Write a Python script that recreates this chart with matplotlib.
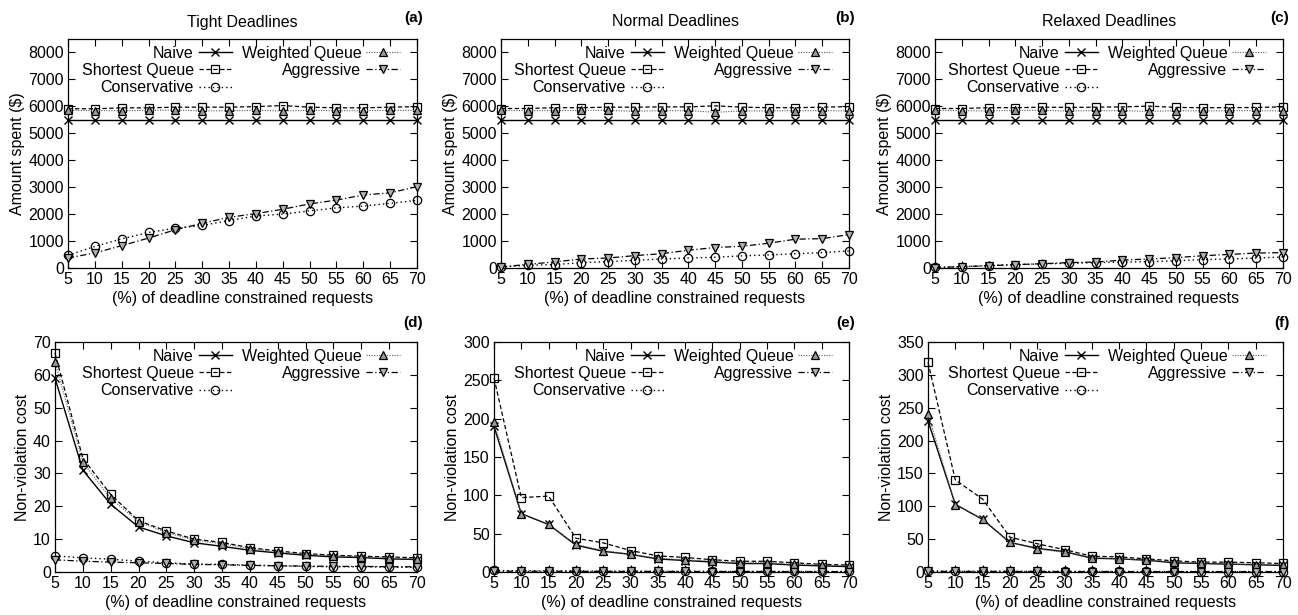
import matplotlib
matplotlib.use("Agg")
import matplotlib.pyplot as plt

plt.rcParams['font.family'] = ['Liberation Sans', 'DejaVu Sans']

x_pct = [5, 10, 15, 20, 25, 30, 35, 40, 45, 50, 55, 60, 65, 70]
series_names = ["Naive", "Shortest Queue", "Conservative", "Weighted Queue", "Aggressive"]
top_titles = ["Tight Deadlines", "Normal Deadlines", "Relaxed Deadlines"]
panel_tags = ["(a)", "(b)", "(c)", "(d)", "(e)", "(f)"]

# ---- Amount spent ($) ----
spent_tight_naive = [5480] * 14
spent_tight_sq = [5910, 5910, 5945, 5945, 5970, 5970, 5970, 5990, 6030, 5970, 5945, 5945, 5970, 5990]
spent_tight_cons = [470, 800, 1080, 1320, 1480, 1580, 1760, 1930, 2000, 2120, 2230, 2300, 2400, 2510]
spent_tight_wq = [5850, 5840, 5840, 5850, 5860, 5830, 5840, 5850, 5830, 5850, 5840, 5840, 5850, 5850]
spent_tight_aggr = [370, 560, 830, 1110, 1420, 1660, 1880, 2020, 2180, 2380, 2520, 2710, 2790, 3020]

spent_normal_naive = [5480] * 14
spent_normal_sq = [5920, 5920, 5950, 5950, 5970, 5970, 5980, 5980, 6020, 5970, 5950, 5950, 5970, 5990]
spent_normal_cons = [40, 100, 125, 200, 235, 285, 335, 370, 400, 450, 485, 530, 570, 635]
spent_normal_wq = [5850, 5840, 5840, 5850, 5850, 5820, 5840, 5840, 5780, 5830, 5830, 5840, 5840, 5830]
spent_normal_aggr = [40, 135, 225, 335, 370, 460, 530, 660, 760, 805, 920, 1070, 1090, 1240]

spent_relaxed_naive = [5480] * 14
spent_relaxed_sq = [5920, 5920, 5950, 5950, 5970, 5960, 5970, 5980, 6010, 5960, 5950, 5950, 5960, 5980]
spent_relaxed_cons = [20, 50, 90, 125, 150, 175, 200, 220, 235, 270, 310, 335, 370, 410]
spent_relaxed_wq = [5850, 5840, 5830, 5850, 5850, 5830, 5840, 5840, 5810, 5840, 5830, 5840, 5840, 5830]
spent_relaxed_aggr = [15, 50, 85, 125, 160, 200, 220, 295, 335, 385, 455, 505, 555, 570]

# ---- Non-violation cost ----
nv_tight_naive = [59, 31, 20.6, 13.7, 11, 8.9, 7.8, 6.6, 5.8, 5.1, 4.6, 4.4, 4.0, 3.8]
nv_tight_sq = [66.6, 34.6, 23.6, 15.6, 12.5, 10.0, 9.0, 7.4, 6.4, 5.6, 5.1, 4.8, 4.6, 4.3]
nv_tight_cons = [4.9, 4.3, 3.9, 3.3, 2.8, 2.4, 2.3, 2.1, 1.9, 1.7, 1.6, 1.6, 1.5, 1.4]
nv_tight_wq = [64, 33.4, 22.4, 15.3, 12, 9.7, 8.6, 7.1, 6.1, 5.4, 4.9, 4.6, 4.3, 3.9]
nv_tight_aggr = [3.7, 3.3, 3.0, 2.8, 2.6, 2.3, 2.2, 2.0, 1.9, 1.8, 1.7, 1.7, 1.6, 1.6]

nv_normal_naive = [190, 76, 62, 35, 27, 23, 17, 15, 13, 11, 11, 9, 8, 7]
nv_normal_sq = [253, 97, 99, 44, 38, 28, 21, 19, 16, 14, 14, 12, 10, 9]
nv_normal_cons = [2.0, 1.5, 1.5, 1.2, 1.0, 1.0, 1.0, 0.9, 0.9, 0.8, 0.8, 0.8, 0.7, 0.7]
nv_normal_wq = [196, 76, 62, 36, 28, 23, 18, 16, 14, 12, 12, 10, 9, 8]
nv_normal_aggr = [1.2, 1.0, 1.0, 0.9, 0.8, 0.8, 0.7, 0.7, 0.6, 0.6, 0.6, 0.5, 0.5, 0.5]

nv_relaxed_naive = [230, 103, 80, 45, 36, 31, 21, 20, 18, 14, 13, 12, 11, 10]
nv_relaxed_sq = [319, 140, 111, 53, 43, 34, 24, 23, 20, 17, 15, 15, 14, 13]
nv_relaxed_cons = [1.5, 1.2, 1.2, 1.0, 1.0, 0.9, 0.9, 0.8, 0.8, 0.8, 0.7, 0.7, 0.7, 0.7]
nv_relaxed_wq = [241, 102, 81, 45, 35, 30, 22, 20, 18, 15, 13, 12, 11, 11]
nv_relaxed_aggr = [1.0, 0.9, 0.9, 0.8, 0.8, 0.7, 0.7, 0.7, 0.6, 0.6, 0.6, 0.6, 0.5, 0.5]

spent_panels = [
    [spent_tight_naive, spent_tight_sq, spent_tight_cons, spent_tight_wq, spent_tight_aggr],
    [spent_normal_naive, spent_normal_sq, spent_normal_cons, spent_normal_wq, spent_normal_aggr],
    [spent_relaxed_naive, spent_relaxed_sq, spent_relaxed_cons, spent_relaxed_wq, spent_relaxed_aggr],
]
nv_panels = [
    [nv_tight_naive, nv_tight_sq, nv_tight_cons, nv_tight_wq, nv_tight_aggr],
    [nv_normal_naive, nv_normal_sq, nv_normal_cons, nv_normal_wq, nv_normal_aggr],
    [nv_relaxed_naive, nv_relaxed_sq, nv_relaxed_cons, nv_relaxed_wq, nv_relaxed_aggr],
]

styles = [
    dict(linestyle='-', marker='x', markersize=6, markeredgewidth=1.0, linewidth=1.0),
    dict(linestyle=(0, (3.5, 2)), marker='s', markersize=6, fillstyle='none', markeredgewidth=0.9, linewidth=0.9),
    dict(linestyle=(0, (1, 2.2)), marker='o', markersize=6, fillstyle='none', markeredgewidth=0.9, linewidth=1.0),
    dict(linestyle=(0, (1, 1.3)), marker='^', markersize=6, markerfacecolor='0.6', markeredgewidth=0.9,
         linewidth=0.8, color='0.35'),
    dict(linestyle=(0, (5, 2, 1, 2)), marker='v', markersize=6, markerfacecolor='0.7', markeredgewidth=0.9,
         linewidth=0.9),
]

W, H = 1298, 615
fig = plt.figure(figsize=(W / 100, H / 100), dpi=100)

def rect(l, r, t, b):
    return [l / W, 1 - b / H, (r - l) / W, (b - t) / H]

top_rects = [rect(68, 417, 39, 268), rect(501, 849, 39, 268), rect(935, 1283, 39, 268)]
bot_rects = [rect(55, 417, 342, 572), rect(494, 849, 342, 572), rect(928, 1283, 342, 572)]
bot_ylims = [(0, 70, 10), (0, 300, 50), (0, 350, 50)]

FS = 11.5
LFS = 11.5

def style_axes(ax, ymax, ystep):
    ax.set_xlim(5, 70)
    ax.set_ylim(0, ymax)
    ax.set_xticks(x_pct)
    ax.set_yticks(range(0, ymax + 1, ystep))
    ax.tick_params(direction='in', top=True, right=True, length=5, width=0.8,
                   labelsize=FS, pad=3)
    for s in ax.spines.values():
        s.set_linewidth(0.9)
    ax.set_xlabel("(%) of deadline constrained requests", fontsize=FS, labelpad=3)

def draw(ax, data):
    for name, ys, st in zip(series_names, data, styles):
        kw = dict(st)
        kw.setdefault('color', 'black')
        kw.setdefault('markeredgecolor', 'black')
        ax.plot(x_pct, ys, label=name, clip_on=False, zorder=3, **kw)
    pos = ax.get_position()
    ax_w_px = pos.width * W
    ax.legend(loc='upper right', bbox_to_anchor=(1 - 14 / ax_w_px, 0.985), ncol=2, frameon=False,
              markerfirst=False, fontsize=LFS, handlelength=2.1, handletextpad=0.3,
              columnspacing=0.6, labelspacing=0.15, borderpad=0.2, borderaxespad=0)

for i in range(3):
    ax = fig.add_axes(top_rects[i])
    draw(ax, spent_panels[i])
    style_axes(ax, 8500, 1000)
    ax.set_yticks(range(0, 8001, 1000))
    ax.set_ylabel("Amount spent ($)", fontsize=FS, labelpad=2)
    ax.set_title(top_titles[i], fontsize=FS, pad=9)
    ax.annotate(panel_tags[i], xy=(1, 1), xycoords='axes fraction', xytext=(4.5, 15),
                textcoords='offset points', ha='right', va='center', fontsize=FS - 0.5, fontweight='bold')

for i in range(3):
    ax = fig.add_axes(bot_rects[i])
    draw(ax, nv_panels[i])
    lo, hi, step = bot_ylims[i]
    style_axes(ax, hi, step)
    ax.set_ylabel("Non-violation cost", fontsize=FS, labelpad=2)
    ax.annotate(panel_tags[i + 3], xy=(1, 1), xycoords='axes fraction', xytext=(4.5, 14),
                textcoords='offset points', ha='right', va='center', fontsize=FS - 0.5, fontweight='bold')

fig.savefig("out.png", dpi=100)
